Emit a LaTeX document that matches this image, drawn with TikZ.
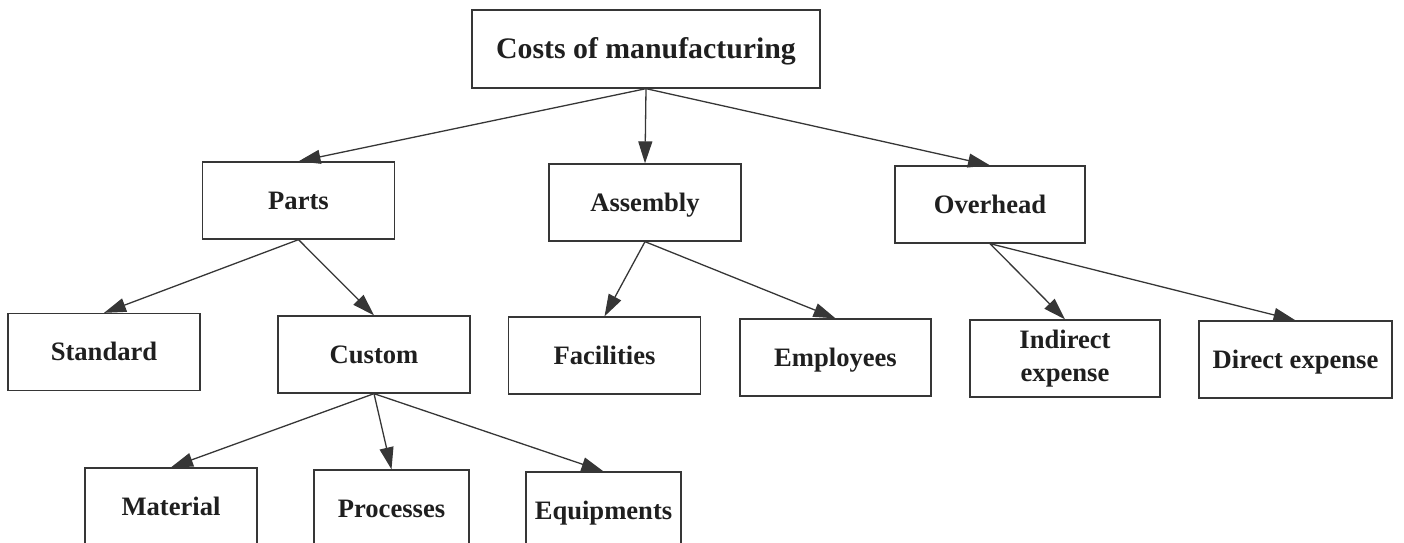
\documentclass[tikz,border=0pt]{standalone}
\usepackage{fontspec}
\setmainfont{Liberation Serif}
\usetikzlibrary{arrows.meta}
\definecolor{ink}{HTML}{363636}

\begin{document}
\begin{tikzpicture}
            [x=0.5pt,y=-0.5pt,line width=0.65pt,
             box/.style = {draw=ink,rectangle,minimum width=96pt,minimum height=38.5pt,inner sep=1pt,text=black!88,font=\bfseries\fontsize{13.3}{16.5}\selectfont},
             main/.style = {box,text height=8.8pt,text depth=0pt},
             link/.style = {ink,-{Triangle[length=11pt,width=7pt]}}]
            \clip (0,0) rectangle (1404,542);
            \node[main,minimum width=174pt,minimum height=39pt,text height=9.8pt,font=\bfseries\fontsize{14.9}{18}\selectfont] (CostsOfManufacturing) at (646,49) {Costs of manufacturing};
            \node[main] (Parts) at (298.5,200.5) {Parts};
            \node[main] (Assembly) at (645,202.5) {Assembly};
            \node[main,minimum width=95pt] (Overhead) at (990,204.5) {Overhead};
            \node[main] (Standard) at (104,352) {Standard};
            \node[main] (Custom) at (374,354.5) {Custom};
            \node[main] (Facilities) at (604.5,355.5) {Facilities};
            \node[main,minimum width=95.5pt] (Employees) at (835.5,357.5) {Employees};
            \node[box,minimum width=95pt,align=center] (IndirectExpense) at (1065,358.5) {Indirect\\expense};
            \node[main,minimum width=96.5pt] (DirectExpense) at (1295.5,359.5) {Direct expense};
            \node[main,minimum width=86pt] (Material) at (171,506.5) {Material};
            \node[main,minimum width=77.5pt] (Processes) at (391.5,508.5) {Processes};
            \node[main,minimum width=77.5pt] (Equipments) at (603.5,510.5) {Equipments};

            \path[link] (CostsOfManufacturing.south) edge (Parts.north);
            \path[link] (CostsOfManufacturing.south) edge (Assembly.north);
            \path[link] (CostsOfManufacturing.south) edge (Overhead.north);
            \path[link] (Parts.south) edge (Standard.north);
            \path[link] (Parts.south) edge (Custom.north);
            \path[link] (Assembly.south) edge (Facilities.north);
            \path[link] (Assembly.south) edge (Employees.north);
            \path[link] (Overhead.south) edge (IndirectExpense.north);
            \path[link] (Overhead.south) edge (DirectExpense.north);
            \path[link] (Custom.south) edge (Material.north);
            \path[link] (Custom.south) edge (Processes.north);
            \path[link] (Custom.south) edge (Equipments.north);
        \end{tikzpicture}
\end{document}
